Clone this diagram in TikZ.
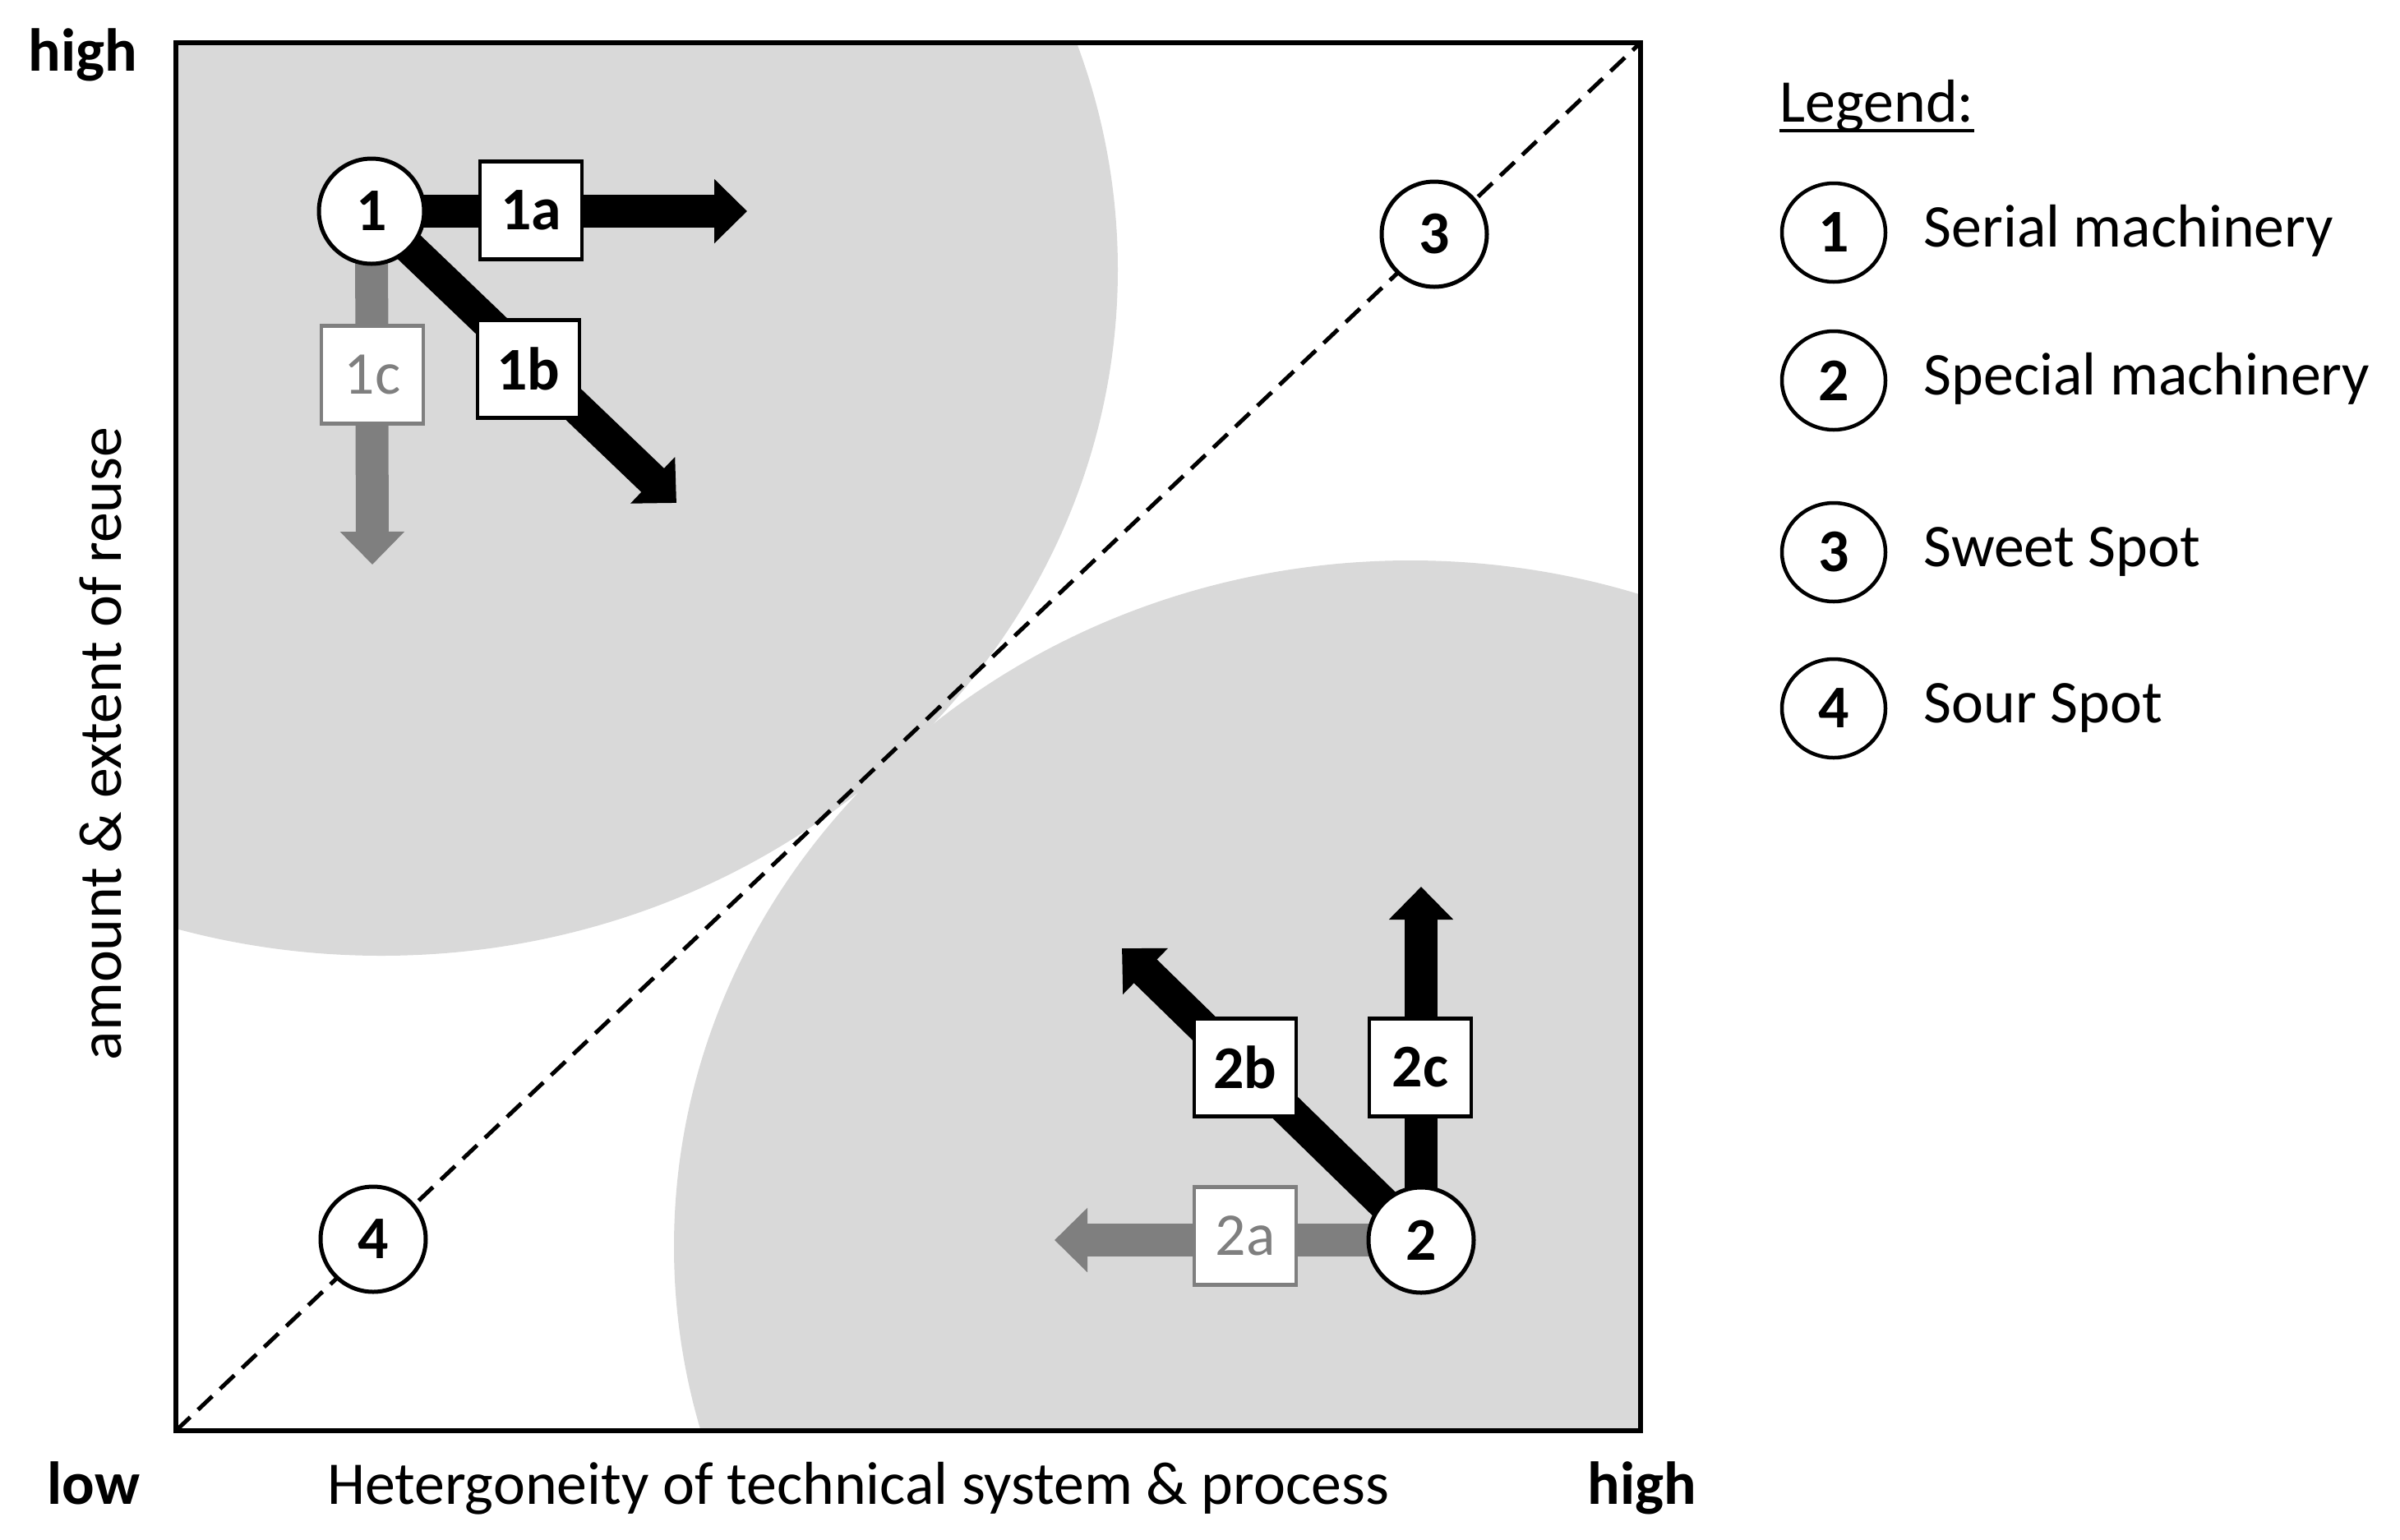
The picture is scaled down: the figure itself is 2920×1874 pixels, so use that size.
\documentclass[tikz,border=0pt]{standalone}
\usepackage{fontspec}
\setmainfont{Carlito}
\usetikzlibrary{arrows.meta,shapes.geometric}
\pgfdeclarelayer{back}
\pgfdeclarelayer{mid}
\pgfsetlayers{back,mid,main}
\definecolor{bggray}{HTML}{D9D9D9}
\definecolor{agray}{HTML}{7F7F7F}
\begin{document}
\begin{tikzpicture}[x=0.1mm,y=-0.1mm,
  txt/.style={font=\fontsize{21}{25}\selectfont, inner sep=0},
  boldtxt/.style={font=\bfseries\fontsize{21}{25}\selectfont, inner sep=0},
  numc/.style={circle, draw, line width=0.5mm, fill=white, minimum size=12.8mm, inner sep=0, font=\bfseries\fontsize{21}{25}\selectfont},
  legc/.style={ellipse, draw, line width=0.45mm, fill=white, minimum width=12.6mm, minimum height=12mm, inner sep=0, font=\bfseries\fontsize{21}{25}\selectfont},
  lbox/.style={rectangle, draw, fill=white, line width=0.45mm, minimum width=12.4mm, minimum height=11.9mm, inner sep=0, font=\bfseries\fontsize{21}{25}\selectfont},
  lboxg/.style={lbox, draw=agray, text=agray, font=\fontsize{21}{25}\selectfont},
  blkarrow/.style={draw=black, line width=4mm, -{Triangle[length=4mm,width=7.6mm]}},
  gryarrow/.style={blkarrow, draw=agray},
  diagline/.style={line width=0.5mm, dash pattern=on 2.4mm off 1.3mm},
  frameline/.style={line width=0.6mm}
]
\useasboundingbox (0,0) rectangle (2920,1874);
% frame corners
\coordinate (bl) at (214,1741);
\coordinate (tr) at (1996,52);
\coordinate (tl) at (214,52);
\coordinate (br) at (1996,1741);

% circle nodes
\node[numc] (n1) at (452,257) {1};
\node[numc] (n2) at (1729,1509) {2};
\node[numc] (n3) at (1745,285) {3};
\node[numc] (n4) at (454,1508) {4};

% arrow tips
\coordinate (t1a) at (909,257);
\coordinate (t1b) at (823,612);
\coordinate (t1c) at (453,687);
\coordinate (t2a) at (1283,1509);
\coordinate (t2b) at (1365,1154);
\coordinate (t2c) at (1729,1079);

% label boxes
\node[lbox] (b1a) at (646,256) {1a};
\node[lbox] (b1b) at (643,449) {1b};
\node[lboxg] (b1c) at (453,456) {1c};
\node[lboxg] (b2a) at (1515,1504) {2a};
\node[lbox] (b2b) at (1515,1299) {2b};
\node[lbox] (b2c) at (1728,1299) {2c};

\begin{pgfonlayer}{back}
  \begin{scope}
    \clip (tl) rectangle (br);
    \fill[bggray] (464,328) ellipse [x radius=896, y radius=835];
    \fill[bggray] (1716,1517) ellipse [x radius=896, y radius=835];
  \end{scope}
  \draw[diagline] (bl) -- (tr);
  \draw[frameline] (tl) rectangle (br);
\end{pgfonlayer}

\begin{pgfonlayer}{mid}
  \draw[blkarrow] (n1.center) -- (t1a);
  \draw[blkarrow] (n1.center) -- (t1b);
  \draw[gryarrow] (n1.center) -- (t1c);
  \draw[gryarrow] (n2.center) -- (t2a);
  \draw[blkarrow] (n2.center) -- (t2b);
  \draw[blkarrow] (n2.center) -- (t2c);
\end{pgfonlayer}

% axis labels
\node[boldtxt, anchor=base] (yhigh) at (101,86) {high};
\node[boldtxt, anchor=base] (xlow) at (114,1830) {low};
\node[boldtxt, anchor=base] (xhigh) at (1998,1830) {high};
\node[txt, anchor=base] (xlab) at (1044,1830) {Hetergoneity of technical system \& process};
\node[txt, anchor=base, rotate=90] (ylab) at (147,905) {amount \& extent of reuse};

% legend
\node[txt, anchor=base west] (legt) at (2165,148) {Legend:};
\draw[line width=0.4mm] ([yshift=-1.1mm]legt.base west) -- ([yshift=-1.1mm]legt.base east);
\node[legc] (l1) at (2231,283) {1};
\node[legc] (l2) at (2231,463) {2};
\node[legc] (l3) at (2231,672) {3};
\node[legc] (l4) at (2231,862) {4};
\node[txt, anchor=base west] (lt1) at (2340,300) {Serial machinery};
\node[txt, anchor=base west] (lt2) at (2340,480) {Special machinery};
\node[txt, anchor=base west] (lt3) at (2340,689) {Sweet Spot};
\node[txt, anchor=base west] (lt4) at (2340,879) {Sour Spot};
\end{tikzpicture}
\end{document}
